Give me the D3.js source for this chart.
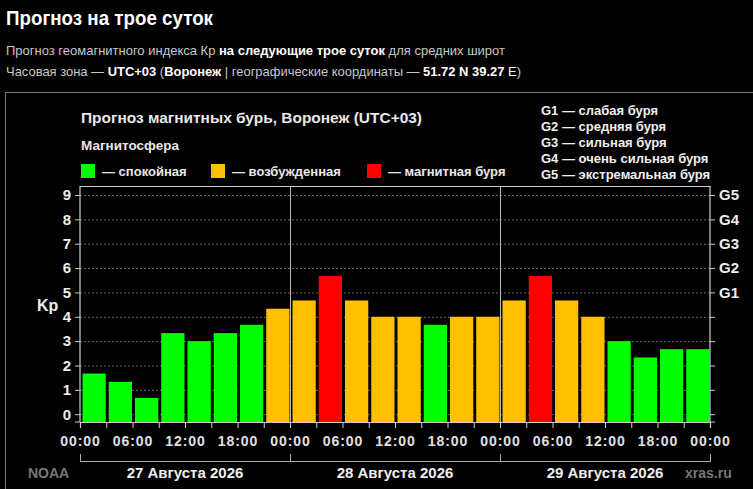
<!DOCTYPE html>
<html>
<head>
<meta charset="utf-8">
<script src="https://cdn.jsdelivr.net/npm/d3@7"></script>
<style>
  body { margin: 0; background: #000; }
  svg { display: block; font-family: "Liberation Sans", Arial, sans-serif; }
</style>
</head>
<body>
<div id="chart"></div>
<script>
// forecast data, 3-hour slots over three days
var days = ["27 Августа 2026", "28 Августа 2026", "29 Августа 2026"];
var slotHours = [0, 3, 6, 9, 12, 15, 18, 21,
                 24, 27, 30, 33, 36, 39, 42, 45,
                 48, 51, 54, 57, 60, 63, 66, 69];
var kp = [1.67, 1.33, 0.67, 3.33, 3.00, 3.33, 3.67, 4.33,
          4.67, 5.67, 4.67, 4.00, 4.00, 3.67, 4.00, 4.00,
          4.67, 5.67, 4.67, 4.00, 3.00, 2.33, 2.67, 2.67];
var kpStatus = ["quiet", "quiet", "quiet", "quiet", "quiet", "quiet", "quiet", "active",
                "active", "storm", "active", "active", "active", "quiet", "active", "active",
                "active", "storm", "active", "active", "quiet", "quiet", "quiet", "quiet"];
var kpTicks = [0, 1, 2, 3, 4, 5, 6, 7, 8, 9];
var gTicks = [5, 6, 7, 8, 9];
var gLabels = ["G1", "G2", "G3", "G4", "G5"];
var gNames = ["G1 — слабая буря", "G2 — средняя буря", "G3 — сильная буря",
              "G4 — очень сильная буря", "G5 — экстремальная буря"];
var legendNames = ["— спокойная", "— возбужденная", "— магнитная буря"];

var colors = { quiet: "#00ff00", active: "#ffc000", storm: "#ff0000" };

var svgWidth = 753;
var svgHeight = 489;
var plot = { left: 80, right: 710, top: 186, bottom: 422 };

var svg = d3.select("#chart")
  .append("svg")
  .attr("width", svgWidth)
  .attr("height", svgHeight);

// page header
svg.append("text")
  .attr("x", 6).attr("y", 25)
  .attr("fill", "#fff")
  .attr("font-size", "20px")
  .attr("font-weight", "bold")
  .attr("textLength", 207)
  .attr("lengthAdjust", "spacingAndGlyphs")
  .text("Прогноз на трое суток");

var line1 = svg.append("text")
  .attr("x", 6).attr("y", 55)
  .attr("fill", "#c8c8c8")
  .attr("font-size", "13px")
  .attr("textLength", 499)
  .attr("lengthAdjust", "spacingAndGlyphs");
line1.append("tspan").text("Прогноз геомагнитного индекса Кр ");
line1.append("tspan").attr("fill", "#fff").attr("font-weight", "bold").text("на следующие трое суток");
line1.append("tspan").text(" для средних широт");

var line2 = svg.append("text")
  .attr("x", 6).attr("y", 76)
  .attr("fill", "#c8c8c8")
  .attr("font-size", "13px")
  .attr("textLength", 515)
  .attr("lengthAdjust", "spacingAndGlyphs");
line2.append("tspan").text("Часовая зона — ");
line2.append("tspan").attr("fill", "#fff").attr("font-weight", "bold").text("UTC+03");
line2.append("tspan").text(" (");
line2.append("tspan").attr("fill", "#fff").attr("font-weight", "bold").text("Воронеж");
line2.append("tspan").text(" | географические координаты — ");
line2.append("tspan").attr("fill", "#fff").attr("font-weight", "bold").text("51.72 N 39.27");
line2.append("tspan").attr("fill", "#fff").text(" E");
line2.append("tspan").text(")");

// panel frame
svg.append("rect")
  .attr("x", 5.5).attr("y", 92.5)
  .attr("width", 800).attr("height", 450)
  .attr("fill", "none")
  .attr("stroke", "#777");

// chart title and legends
svg.append("text")
  .attr("x", 81).attr("y", 123)
  .attr("fill", "#e8e8e8")
  .attr("font-size", "15px")
  .attr("font-weight", "bold")
  .attr("textLength", 341)
  .attr("lengthAdjust", "spacingAndGlyphs")
  .text("Прогноз магнитных бурь, Воронеж (UTC+03)");

svg.append("text")
  .attr("x", 81).attr("y", 150)
  .attr("fill", "#e8e8e8")
  .attr("font-size", "13.5px")
  .attr("font-weight", "bold")
  .text("Магнитосфера");

var legendX = [81, 211, 367];
var legendKeys = ["quiet", "active", "storm"];
var legend = svg.selectAll(".legend").data(legendKeys).enter()
  .append("g")
  .attr("class", "legend")
  .attr("transform", (d, i) => `translate(${legendX[i]}, 164)`);
legend.append("rect")
  .attr("width", 14).attr("height", 14)
  .attr("fill", d => colors[d]);
legend.append("text")
  .attr("x", 21).attr("y", 11.5)
  .attr("fill", "#e8e8e8")
  .attr("font-size", "13px")
  .attr("font-weight", "bold")
  .text((d, i) => legendNames[i]);

svg.selectAll(".gname").data(gNames).enter()
  .append("text")
  .attr("class", "gname")
  .attr("x", 541)
  .attr("y", (d, i) => 115 + i * 16)
  .attr("fill", "#f0f0f0")
  .attr("font-size", "13px")
  .attr("font-weight", "bold")
  .text(d => d);

// scales
var x = d3.scaleLinear().domain([0, 72]).range([plot.left, plot.right]);
var y = d3.scaleLinear().domain([-0.32, 9.37]).range([plot.bottom, plot.top]);

// grid
svg.append("g")
  .selectAll("line").data(kpTicks).enter()
  .append("line")
  .attr("x1", plot.left).attr("x2", plot.right)
  .attr("y1", d => y(d) + 0.5).attr("y2", d => y(d) + 0.5)
  .attr("stroke", "#666")
  .attr("stroke-dasharray", "2,2");

// bars
var step = x(3) - x(0);
svg.append("g")
  .selectAll("rect").data(kp).enter()
  .append("rect")
  .attr("x", (d, i) => x(slotHours[i]) + 2.5)
  .attr("width", step - 3)
  .attr("y", d => y(d))
  .attr("height", d => y.range()[0] - y(d))
  .attr("fill", (d, i) => colors[kpStatus[i]]);

// day separators
svg.append("g")
  .selectAll("line").data([24, 48]).enter()
  .append("line")
  .attr("x1", d => x(d) + 0.5).attr("x2", d => x(d) + 0.5)
  .attr("y1", plot.top).attr("y2", plot.bottom)
  .attr("stroke", "#bbb");

// top border
svg.append("line")
  .attr("x1", plot.left).attr("x2", plot.right + 1)
  .attr("y1", plot.top + 0.5).attr("y2", plot.top + 0.5)
  .attr("stroke", "#ccc");

// left axis
var leftAxis = d3.axisLeft(y).tickValues(kpTicks).tickSize(5).tickPadding(4).tickFormat(d3.format("d"));
var gLeft = svg.append("g")
  .attr("transform", `translate(${plot.left}, 0)`)
  .call(leftAxis);

// right axis
var rightAxis = d3.axisRight(y).tickValues(kpTicks).tickSize(5).tickPadding(4)
  .tickFormat(d => gTicks.indexOf(d) >= 0 ? gLabels[gTicks.indexOf(d)] : "");
var gRight = svg.append("g")
  .attr("transform", `translate(${plot.right}, 0)`)
  .call(rightAxis);

// bottom axis, ticks every 3 hours, labels every 6 hours
var tickHours = d3.range(0, 73, 3);
var bottomAxis = d3.axisBottom(x).tickValues(tickHours).tickSize(6).tickPadding(8)
  .tickFormat(d => d % 6 === 0 ? d3.format("02d")(d % 24) + ":00" : "");
var gBottom = svg.append("g")
  .attr("transform", `translate(0, ${plot.bottom})`)
  .call(bottomAxis);

[gLeft, gRight, gBottom].forEach(function(g) {
  g.select(".domain").attr("stroke", "#ccc").attr("stroke-width", 1.2);
  g.selectAll(".tick line").attr("stroke", "#ccc");
  g.selectAll(".tick text")
    .attr("fill", "#eee")
    .attr("font-family", "Liberation Sans, Arial, sans-serif")
    .attr("font-weight", "bold");
});
gLeft.select(".domain").attr("d", `M-5,${plot.bottom}H0V${plot.top}`);
gRight.select(".domain").attr("d", `M5,${plot.bottom}H0V${plot.top}`);
gLeft.selectAll(".tick text").attr("font-size", "15px");
gRight.selectAll(".tick text").attr("font-size", "15px");
gBottom.selectAll(".tick text").attr("font-size", "14px").attr("letter-spacing", "0.9px").attr("fill", "#e0e0e0");

svg.append("text")
  .attr("x", 37).attr("y", 311)
  .attr("fill", "#eee")
  .attr("font-size", "16px")
  .attr("font-weight", "bold")
  .text("Kp");

// day bracket under the time axis
var bracketY = 461;
svg.append("line")
  .attr("x1", x(0)).attr("x2", x(72))
  .attr("y1", bracketY + 0.5).attr("y2", bracketY + 0.5)
  .attr("stroke", "#aaa");
svg.append("g")
  .selectAll("line").data([0, 24, 48, 72]).enter()
  .append("line")
  .attr("x1", d => x(d) + 0.5).attr("x2", d => x(d) + 0.5)
  .attr("y1", bracketY - 7).attr("y2", bracketY + 1)
  .attr("stroke", "#aaa");

svg.append("g")
  .selectAll("text").data(days).enter()
  .append("text")
  .attr("x", (d, i) => x(i * 24 + 12))
  .attr("y", 478)
  .attr("text-anchor", "middle")
  .attr("fill", "#eee")
  .attr("font-size", "15px")
  .attr("font-weight", "bold")
  .text(d => d);

svg.append("text")
  .attr("x", 28).attr("y", 478)
  .attr("fill", "#777")
  .attr("font-size", "14px")
  .attr("font-weight", "bold")
  .text("NOAA");

svg.append("text")
  .attr("x", 685).attr("y", 478)
  .attr("fill", "#777")
  .attr("font-size", "14px")
  .attr("font-weight", "bold")
  .text("xras.ru");
</script>
</body>
</html>
